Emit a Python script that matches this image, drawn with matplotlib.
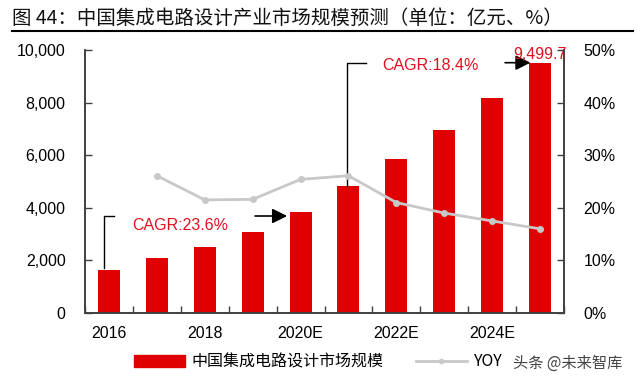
import matplotlib
matplotlib.use("Agg")
import matplotlib.pyplot as plt
import numpy as np
from matplotlib.lines import Line2D
from matplotlib.patches import Patch

plt.rcParams['font.family'] = ['Liberation Sans', 'Noto Sans CJK SC', 'DejaVu Sans']

# ---- data ----
years = ['2016', '2017', '2018', '2019', '2020E', '2021E', '2022E', '2023E', '2024E', '2025E']
market_size = [1644, 2073, 2519, 3064, 3841, 4843, 5860, 6973, 8193, 9499.7]
yoy_years = years[1:]
yoy = [26.1, 21.5, 21.6, 25.4, 26.1, 21.0, 19.0, 17.5, 16.0]
cagr_labels = ['CAGR:23.6%', 'CAGR:18.4%']
bar_label = 'Market'
title = '图 44：中国集成电路设计产业市场规模预测（单位：亿元、%）'
legend_bar = '中国集成电路设计市场规模'
legend_line = 'YOY'
watermark = '头条 @未来智库'

RED = '#E00000'
TXT_RED = '#E0101E'
GRAY = '#C8C8C8'
SPINE = '#404040'
FS = 11.5

fig = plt.figure(figsize=(6.4, 3.85), dpi=100)
ax = fig.add_axes([85/640, 1-313/385, (564-85)/640, (313-50)/385])
ax2 = ax.twinx()

x = np.arange(len(years))
ax.bar(x, market_size, width=0.46, color=RED, zorder=2)
xi = np.arange(1, len(years))
ax2.plot(xi, yoy, color=GRAY, lw=2, marker='o', ms=4, zorder=3)

ax.set_xlim(-0.5, len(years)-0.5)
ax.set_ylim(0, 10000)
ax2.set_ylim(0, 50)
ax.set_yticks(np.arange(0, 10001, 2000))
ax.set_yticklabels([f'{v:,}' for v in range(0, 10001, 2000)], fontsize=FS)
ax2.set_yticks(np.arange(0, 51, 10))
ax2.set_yticklabels([f'{v}%' for v in range(0, 51, 10)], fontsize=FS)

ax.set_xticks(x[::2])
ax.set_xticklabels(years[::2], fontsize=FS)
ax.set_xticks(np.arange(-0.5, len(years), 1), minor=True)
ax.tick_params(axis='x', which='major', length=0, pad=9)
ax.tick_params(axis='x', which='minor', direction='in', length=5, color=SPINE, width=1)
ax.tick_params(axis='y', direction='in', length=5, color=SPINE, width=1, pad=14)
ax2.tick_params(axis='y', direction='in', length=5, color=SPINE, width=1, pad=14)

for a in (ax, ax2):
    a.spines['top'].set_visible(False)
    for s in ('left', 'right', 'bottom'):
        a.spines[s].set_color(SPINE)
        a.spines[s].set_linewidth(1.2)
ax.set_zorder(ax2.get_zorder() - 1) if False else None

# annotations
ax.plot([-0.1, -0.1, 0.11], [market_size[0] + 50, 3700, 3700], color='black', lw=1, zorder=4)
ax.text(0.48, 3346, cagr_labels[0], color=TXT_RED, fontsize=FS, va='center', ha='left', zorder=4)
ax.annotate('', xy=(3.72, 3688), xytext=(3.05, 3688),
            arrowprops=dict(arrowstyle='-|>,head_length=0.9,head_width=0.45', color='black', lw=1.2, shrinkA=0, shrinkB=0), zorder=4)

ax.plot([4.96, 4.96, 5.36], [market_size[5], 9517, 9517], color='black', lw=1, zorder=4)
ax.text(5.71, 9392, cagr_labels[1], color=TXT_RED, fontsize=FS, va='center', ha='left', zorder=4)
ax.annotate('', xy=(8.8, 9517), xytext=(8.27, 9517),
            arrowprops=dict(arrowstyle='-|>,head_length=0.9,head_width=0.45', color='black', lw=1.2, shrinkA=0, shrinkB=0), zorder=4)

ax.text(x[-1], market_size[-1] + 40, f'{market_size[-1]:,.1f}', color=TXT_RED, fontsize=FS,
        ha='center', va='bottom', zorder=4, clip_on=False)

# title
fig.text(12/640, 1-18/385, title, fontsize=14, ha='left', va='center',
         family=['Noto Sans CJK SC', 'DejaVu Sans'], color='#111111')
fig.add_artist(Line2D([12/640, 633/640], [1-31/385, 1-31/385], color='black', lw=1.5))

# legend
handles = [Patch(facecolor=RED, edgecolor=RED),
           Line2D([0], [0], color=GRAY, lw=2, marker='o', ms=3)]
leg = fig.legend(handles, [legend_bar, legend_line], loc='center', bbox_to_anchor=(318/640, 1-362/385),
                 ncol=2, frameon=False, fontsize=FS, handlelength=3.2, handleheight=0.8,
                 columnspacing=2.0, handletextpad=0.4,
                 prop={'family': ['Noto Sans CJK SC', 'DejaVu Sans'], 'size': FS})
fig.text(513/640, 1-363/385, watermark, fontsize=11, color='#444444', ha='left', va='center',
         family=['Noto Sans CJK SC', 'DejaVu Sans'])

fig.savefig('out.png', dpi=100)
